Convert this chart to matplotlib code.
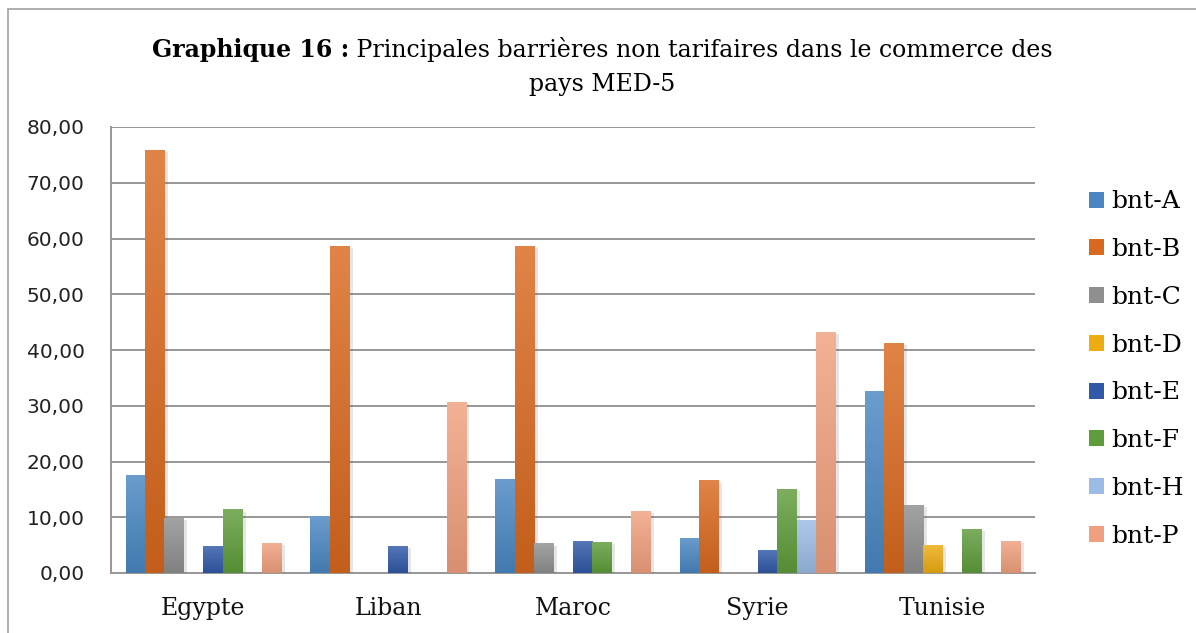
import numpy as np
import matplotlib
matplotlib.use('Agg')
import matplotlib.pyplot as plt
import matplotlib.patheffects as pe
from matplotlib.patches import Patch, Rectangle
from matplotlib.colors import to_rgb

# data
pays = ['Egypte', 'Liban', 'Maroc', 'Syrie', 'Tunisie']
series = ['bnt-A', 'bnt-B', 'bnt-C', 'bnt-D', 'bnt-E', 'bnt-F', 'bnt-H', 'bnt-P']
bnt_A = [17.6, 10.2, 16.9, 6.3, 32.7]
bnt_B = [75.9, 58.7, 58.7, 16.6, 41.2]
bnt_C = [9.9, 0.0, 5.3, 0.0, 12.2]
bnt_D = [0.0, 0.0, 0.0, 0.0, 5.1]
bnt_E = [4.9, 4.9, 5.8, 4.2, 0.0]
bnt_F = [11.4, 0.0, 5.6, 15.0, 7.9]
bnt_H = [0.0, 0.0, 0.0, 9.5, 0.0]
bnt_P = [5.4, 30.6, 11.1, 43.3, 5.8]
values = [bnt_A, bnt_B, bnt_C, bnt_D, bnt_E, bnt_F, bnt_H, bnt_P]

colors = ['#4A87C2', '#D9691F', '#8F8F8F', '#EDAC12', '#3159A8', '#5F9C3B', '#9BBCE5', '#F0A07E']

serif = 'DejaVu Serif'

fig = plt.figure(figsize=(11.96, 6.33), dpi=100)
W, H = 1196, 633
ax = fig.add_axes([111 / W, 1 - 573 / H, (1035 - 111) / W, (573 - 127) / H])

x = np.arange(len(pays))
w = 1 / 9.5

for j, (name, vals) in enumerate(zip(series, values)):
    bars = ax.bar(x + (j - 3.5) * w, vals, width=w, color=colors[j], zorder=3,
                  path_effects=[pe.SimplePatchShadow(offset=(2.5, -1.5), alpha=0.13, shadow_rgbFace='#444444'),
                                pe.Normal()])
    base = np.array(to_rgb(colors[j]))
    top = base + (1 - base) * 0.18
    bot = base * 0.9
    for b in bars:
        h = b.get_height()
        if h <= 0:
            continue
        grad = np.linspace(top, bot, 64).reshape(64, 1, 3)
        im = ax.imshow(grad, extent=(b.get_x(), b.get_x() + b.get_width(), 0, h),
                       aspect='auto', zorder=4, interpolation='bilinear')
        im.set_clip_path(b)

ax.set_xlim(-0.5, len(pays) - 0.5)
ax.set_ylim(0, 80)
ax.set_yticks(np.arange(0, 81, 10))
ax.set_yticklabels([f'{v:.2f}'.replace('.', ',') for v in np.arange(0, 81, 10)],
                   fontsize=14.5, color='#222222')
ax.set_xticks(x)
ax.set_xticklabels(pays, fontsize=17, family=serif, color='#111111')
ax.tick_params(axis='y', length=0, pad=19)
ax.tick_params(axis='x', length=0, pad=17)
ax.yaxis.grid(True, color='#979797', lw=1.4, zorder=0)
ax.set_axisbelow(True)
for s in ['top', 'right']:
    ax.spines[s].set_visible(False)
for s in ['left', 'bottom']:
    ax.spines[s].set_color('#979797')
    ax.spines[s].set_linewidth(1.4)

handles = [Patch(facecolor=c, edgecolor='none') for c in colors]
fig.legend(handles, series, loc='center left', bbox_to_anchor=(1066 / W, 1 - 369 / H),
           frameon=False, prop={'family': serif, 'size': 18}, handlelength=0.6,
           handleheight=0.6, handletextpad=0.3, labelspacing=0.99)

# title: bold prefix + regular text, two lines centred
renderer = fig.canvas.get_renderer()
t1 = fig.text(0, 1 - 57 / H, 'Graphique 16 :', fontsize=17, family=serif, weight='bold')
t2 = fig.text(0, 1 - 57 / H, ' Principales barrières non tarifaires dans le commerce des',
              fontsize=17, family=serif)
w1 = t1.get_window_extent(renderer).width
w2 = t2.get_window_extent(renderer).width
x0 = 602 - (w1 + w2) / 2
t1.set_x(x0 / W)
t2.set_x((x0 + w1) / W)
fig.text(602 / W, 1 - 91 / H, 'pays MED-5', fontsize=17, family=serif, ha='center')

fig.patches.append(Rectangle((8 / W, -0.1), 1.2, 1 - 9 / H + 0.1, transform=fig.transFigure,
                             fill=False, edgecolor='#A0A0A0', lw=1.2))

fig.savefig('out.png', dpi=100)
